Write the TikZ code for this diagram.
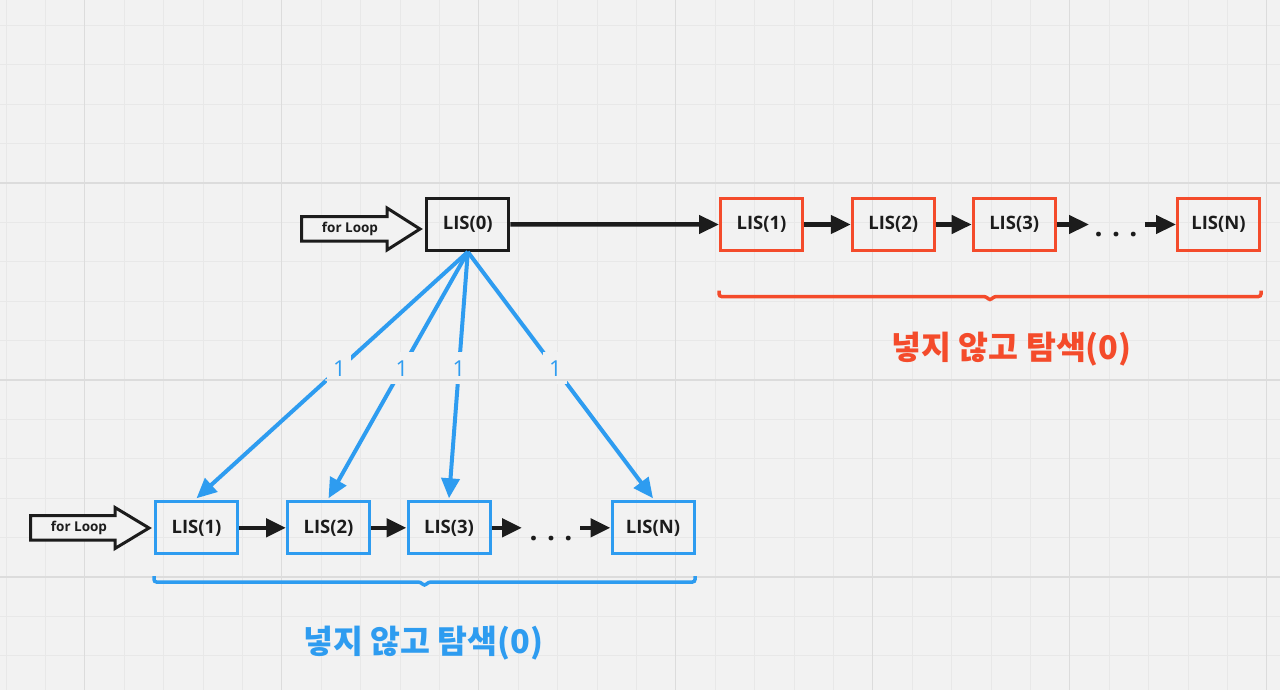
\documentclass[tikz,border=0pt]{standalone}
\usepackage{fontspec}
\setmainfont{Open Sans}
\newfontfamily\kr{Noto Sans CJK KR}
\usetikzlibrary{arrows.meta,calc}
\definecolor{bg}{HTML}{F2F2F2}
\definecolor{gmin}{HTML}{E8E8E8}
\definecolor{gmaj}{HTML}{DCDCDC}
\definecolor{ink}{HTML}{1C1C1C}
\definecolor{myred}{HTML}{F44B2B}
\definecolor{myblue}{HTML}{2E9CF0}
\tikzset{
  box/.style={draw, line width=3pt, minimum width=82pt, minimum height=52pt, inner sep=0pt,
    text=ink, font=\fontsize{18.5}{21}\selectfont\bfseries},
  redbox/.style={box, draw=myred},
  bluebox/.style={box, draw=myblue},
  blackbox/.style={box, draw=ink},
  flow/.style={draw=ink, line width=4.5pt, -{Triangle[length=20pt,width=18pt]}},
  bluearrow/.style={draw=myblue, line width=4pt, -{Triangle[length=20pt,width=18pt]}},
  lbl/.style={fill=bg, text=myblue, font=\fontsize{22}{24}\selectfont, inner sep=0pt,
    minimum width=24pt, minimum height=32pt},
  hollow/.style={draw=ink, line width=3pt, fill=bg, line join=miter},
  looptext/.style={text=ink, font=\fontsize{13.5}{15}\selectfont\bfseries},
  dotstext/.style={text=ink, font=\fontsize{28}{30}\selectfont\bfseries, anchor=base, inner sep=0pt},
  bracered/.style={draw=myred, line width=3.5pt, rounded corners=2.5pt},
  braceblue/.style={draw=myblue, line width=3.5pt, rounded corners=2.5pt},
  sumlabel/.style={font=\kr\bfseries\fontsize{32.5}{36}\selectfont},
}
\begin{document}
\begin{tikzpicture}[x=1pt,y=-1pt]
\useasboundingbox[fill=bg] (0,0) rectangle (1280,690);
% grid
\foreach \i in {0,...,32} \draw[gmin, line width=1pt] ({6.1+39.4*\i},0) -- ({6.1+39.4*\i},690);
\foreach \i in {0,...,17} \draw[gmin, line width=1pt] (0,{25.4+39.4*\i}) -- (1280,{25.4+39.4*\i});
\foreach \i in {0,...,6} \draw[gmaj, line width=1.3pt] ({84.5+197*\i},0) -- ({84.5+197*\i},690);
\foreach \i in {0,...,2} \draw[gmaj, line width=1.3pt] (0,{183+197*\i}) -- (1280,{183+197*\i});

% top for-loop arrow
\draw[hollow] (301.5,216.5) -- (387,216.5) -- (387,208) -- (420,229) -- (387,250) -- (387,241) -- (301.5,241) -- cycle;
\node[looptext] (loopA) at (350,228.5) {for Loop};
% bottom for-loop arrow
\draw[hollow] (30.5,515.5) -- (115,515.5) -- (115,507.5) -- (149,528) -- (115,548.5) -- (115,540) -- (30.5,540) -- cycle;
\node[looptext] (loopB) at (79,527.5) {for Loop};

% nodes
\node[blackbox] (b0) at (467.8,224.4) {LIS(0)};
\node[redbox] (r1) at (761.5,224.5) {LIS(1)};
\node[redbox] (r2) at (893.3,224.5) {LIS(2)};
\node[redbox] (r3) at (1014.2,224.5) {LIS(3)};
\node[redbox] (rN) at (1218.5,224.5) {LIS(N)};
\node[bluebox] (c1) at (196.5,527.8) {LIS(1)};
\node[bluebox] (c2) at (328.5,527.8) {LIS(2)};
\node[bluebox] (c3) at (449,527.8) {LIS(3)};
\node[bluebox] (cN) at (653,527.8) {LIS(N)};

% dots
\node[dotstext] (dotsR) at (1116,236.5) {.\hskip 9.5pt.\hskip 9.5pt.};
\node[dotstext] (dotsB) at (551,540.5) {.\hskip 9.5pt.\hskip 9.5pt.};
\coordinate (dRin) at (1089,224.5);
\coordinate (dRout) at (1145,224.5);
\coordinate (dBin) at (522,527.8);
\coordinate (dBout) at (580,527.8);

% black flow arrows
\draw[flow] (b0.east) -- (r1.west);
\draw[flow] (r1.east) -- (r2.west);
\draw[flow] (r2.east) -- (r3.west);
\draw[flow] (r3.east) -- (dRin);
\draw[flow] (dRout) -- (rN.west);
\draw[flow] (c1.east) -- (c2.west);
\draw[flow] (c2.east) -- (c3.west);
\draw[flow] (c3.east) -- (dBin);
\draw[flow] (dBout) -- (cN.west);

% blue arrows with labels
\draw[bluearrow] (b0.south) -- node[lbl, pos=0.473] (l1) {1} ($(c1.north)+(0,-2)$);
\draw[bluearrow] (b0.south) -- node[lbl, pos=0.473] (l2) {1} ($(c2.north)+(0,-2)$);
\draw[bluearrow] (b0.south) -- node[lbl, pos=0.473] (l3) {1} ($(c3.north)+(0,-2)$);
\draw[bluearrow] (b0.south) -- node[lbl, pos=0.473] (l4) {1} ($(cN.north)+(0,-2)$);
% grid line restored under the label boxes
\begin{scope}
\clip (l1.south west) rectangle (l1.north east) (l2.south west) rectangle (l2.north east)
      (l3.south west) rectangle (l3.north east) (l4.south west) rectangle (l4.north east);
\draw[gmaj, line width=1.3pt] (0,380) -- (1280,380);
\end{scope}

% braces
\draw[bracered] (719,290.5) -- (719,296.5) -- (986,296.5) -- (990,300.5) -- (994,296.5) -- (1261,296.5) -- (1261,290.5);
\draw[braceblue] (154,576) -- (154,582) -- (420.5,582) -- (424.5,586) -- (428.5,582) -- (695,582) -- (695,576);

% labels
\node[sumlabel, text=myred] (sumR) at (1011.7,349) {넣지 않고 탐색(0)};
\node[sumlabel, text=myblue] (sumB) at (423.5,643) {넣지 않고 탐색(0)};
\end{tikzpicture}
\end{document}
